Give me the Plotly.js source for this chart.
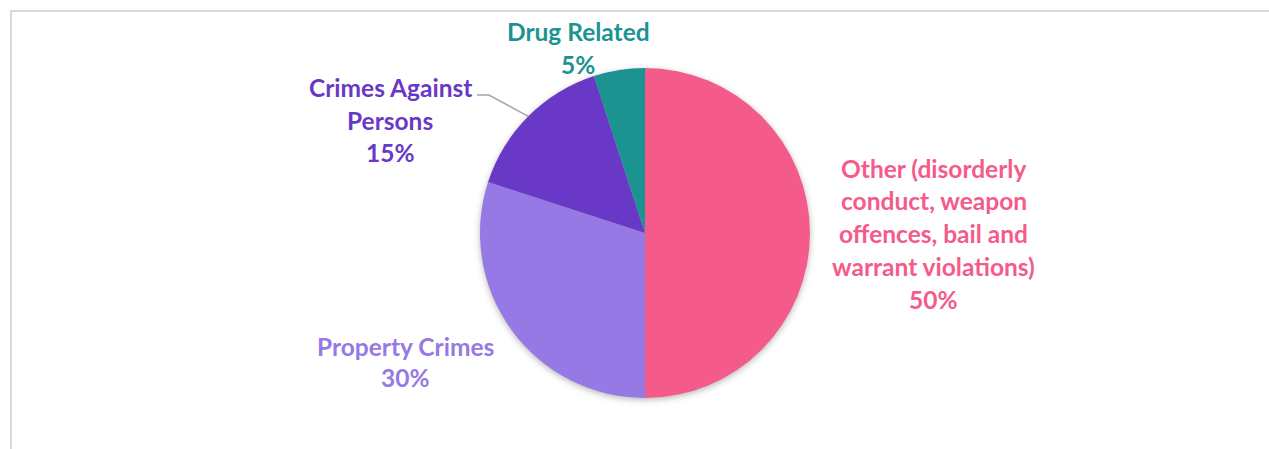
<!DOCTYPE html>
<html>
<head>
<meta charset="utf-8">
<script src="https://cdn.plot.ly/plotly-3.0.1.min.js"></script>
<style>
  html, body { margin: 0; padding: 0; background: #fff; overflow: hidden; }
  #chart { width: 1269px; height: 449px; }
  #frame { position: absolute; left: 10px; top: 10px; width: 2000px; height: 2000px;
           border: 2px solid #d9d9d9; pointer-events: none; box-sizing: border-box; }
  .pielayer { filter: drop-shadow(0px 2px 3px rgba(0,0,0,0.28)); }
</style>
</head>
<body>
<div id="chart"></div>
<div id="frame"></div>
<script>
// ---- data ----
const categories = [
  'Other (disorderly conduct, weapon offences, bail and warrant violations)',
  'Property Crimes',
  'Crimes Against Persons',
  'Drug Related'
];
const values = [50, 30, 15, 5];
const labelLines = [
  ['Other (disorderly', 'conduct, weapon', 'offences, bail and', 'warrant violations)'],
  ['Property Crimes'],
  ['Crimes Against', 'Persons'],
  ['Drug Related']
];
const colors = ['#F45B8A', '#9679E4', '#6A38C6', '#1B9491'];

// ---- layout helpers ----
const W = 1269, H = 449;
const cx = 645, cy = 233, R = 165;
const px = x => x / W;
const py = y => 1 - y / H;

// label anchor positions (pixel centers of first line, line step)
const labelPos = [
  { x: 934, y: 168, step: 32.75 },
  { x: 405, y: 346, step: 31.5 },
  { x: 390, y: 88, step: 32 },
  { x: 578, y: 32, step: 32 }
];

const FONT = 'Lato, "Open Sans", sans-serif';
const total = values.reduce((a, b) => a + b, 0);

const annotations = [];
categories.forEach((c, i) => {
  const pct = Math.round(values[i] / total * 100) + '%';
  const lines = labelLines[i].concat([pct]);
  lines.forEach((t, k) => {
    annotations.push({
      x: px(labelPos[i].x), y: py(labelPos[i].y + k * labelPos[i].step),
      xref: 'paper', yref: 'paper', xanchor: 'center', yanchor: 'middle',
      text: t, showarrow: false,
      font: { family: FONT, size: 24.5, color: colors[i], weight: 'bold' }
    });
  });
});

// leader line for Crimes Against Persons: to midpoint of its slice on the edge
let cum = 0;
const mids = values.map(v => { const m = (cum + v / 2) / total; cum += v; return m; });
const ang = mids[2] * 2 * Math.PI;
const ex = cx + R * Math.sin(ang), ey = cy - R * Math.cos(ang);
const shapes = [{
  type: 'path', xref: 'paper', yref: 'paper',
  path: `M ${px(477)} ${py(95)} L ${px(489)} ${py(95)} L ${px(ex)} ${py(ey)}`,
  line: { color: '#A6A6A6', width: 1.5 }
}];

const trace = {
  type: 'pie',
  labels: categories,
  values: values,
  sort: false,
  direction: 'clockwise',
  rotation: 0,
  textinfo: 'none',
  hoverinfo: 'label+percent',
  marker: { colors: colors, line: { width: 0 } },
  domain: { x: [(cx - R) / W, (cx + R) / W], y: [(H - (cy + R)) / H, (H - (cy - R)) / H] },
  showlegend: false
};

Plotly.newPlot('chart', [trace], {
  width: W, height: H,
  margin: { l: 0, r: 0, t: 0, b: 0 },
  paper_bgcolor: '#fff',
  showlegend: false,
  annotations: annotations,
  shapes: shapes
}, { displayModeBar: false, staticPlot: true });
</script>
</body>
</html>
